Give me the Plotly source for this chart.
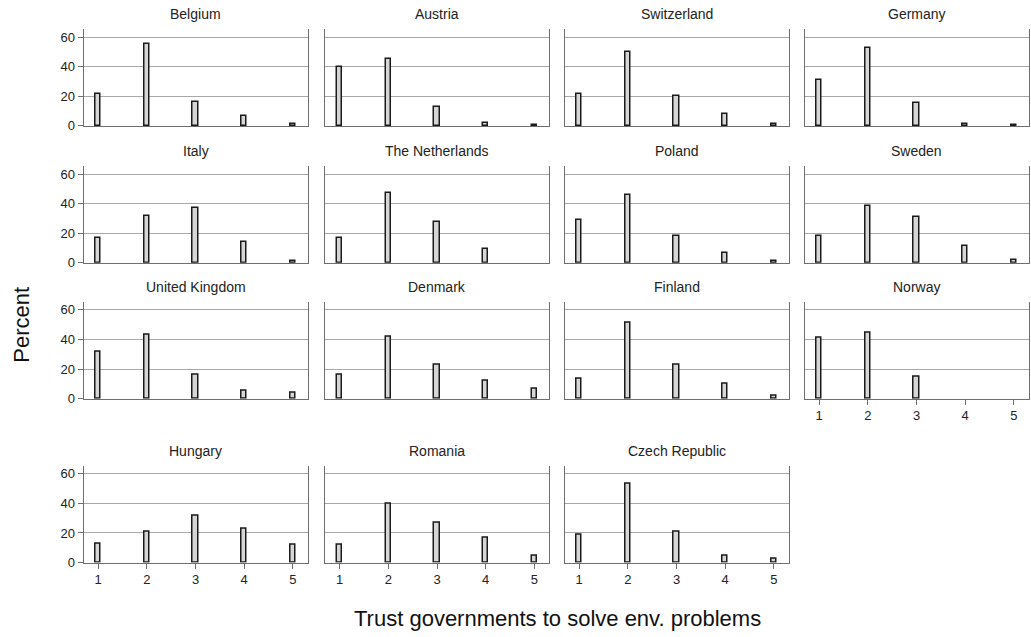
import plotly.graph_objects as go

categories = [1, 2, 3, 4, 5]
countries = ["Belgium", "Austria", "Switzerland", "Germany",
             "Italy", "The Netherlands", "Poland", "Sweden",
             "United Kingdom", "Denmark", "Finland", "Norway",
             "Hungary", "Romania", "Czech Republic"]

belgium = [21.4, 55.7, 16.1, 6.6, 1.2]
austria = [39.5, 45.2, 13.0, 2.3, 0.9]
switzerland = [21.8, 49.8, 20.2, 8.0, 1.5]
germany = [31.1, 52.7, 15.2, 1.0, 0.9]
italy = [16.8, 31.8, 36.8, 14.1, 1.4]
netherlands = [16.8, 47.5, 27.5, 9.3, None]
poland = [29.1, 46.1, 18.4, 6.8, 1.1]
sweden = [18.4, 38.2, 30.9, 11.4, 2.3]
united_kingdom = [31.8, 43.4, 15.9, 5.2, 4.3]
denmark = [16.4, 41.8, 23.2, 12.3, 7.0]
finland = [13.4, 51.6, 23.2, 10.2, 2.3]
norway = [40.9, 44.5, 15.0, None, None]
hungary = [12.5, 20.8, 31.5, 23.0, 12.1]
romania = [11.9, 39.5, 27.1, 16.7, 5.0]
czech_republic = [18.9, 53.6, 20.8, 5.0, 2.5]

series = [belgium, austria, switzerland, germany,
          italy, netherlands, poland, sweden,
          united_kingdom, denmark, finland, norway,
          hungary, romania, czech_republic]

y_ticks = [0, 20, 40, 60]

W, H = 1031, 637
SV = 1.012  # vertical compensation
col_px = [(83.5, 307.5), (325, 549), (564.5, 788.5), (804.5, 1028.5)]
row_px = [(29, 126), (166, 263), (302, 399), (466, 563)]

FONT = "Arial, Liberation Sans, Helvetica, sans-serif"
FRAME = "#6e6e6e"
GRID = "#a8a8a8"


def py(v):
    return 1 - min(v * SV, H) / H


fig = go.Figure()
annotations = []

for i, (name, vals) in enumerate(zip(countries, series)):
    r, c = divmod(i, 4)
    n = i + 1
    xa = "x" if n == 1 else f"x{n}"
    ya = "y" if n == 1 else f"y{n}"
    fig.add_trace(go.Bar(
        x=categories, y=vals, xaxis=xa, yaxis=ya, width=0.105,
        marker=dict(color="#d6d6d6", line=dict(color="#1a1a1a", width=1.5)),
        showlegend=False, hoverinfo="x+y"))
    x0, x1 = col_px[c]
    y0, y1 = row_px[r]
    show_x = (r == 3) or (name == "Norway")
    show_y = (c == 0)
    xkey = "xaxis" if n == 1 else f"xaxis{n}"
    ykey = "yaxis" if n == 1 else f"yaxis{n}"
    fig.layout[xkey] = dict(
        domain=[x0 / W, x1 / W], anchor=ya, range=[0.7, 5.3],
        tickvals=categories, ticktext=[str(v) for v in categories],
        showticklabels=show_x, ticks="outside" if show_x else "",
        ticklen=5, tickcolor=FRAME, showgrid=False, zeroline=False,
        showline=True, linecolor=FRAME, linewidth=1, mirror=False,
        tickfont=dict(family=FONT, size=13, color="#222"), fixedrange=True)
    fig.layout[ykey] = dict(
        domain=[py(y1), py(y0)], anchor=xa, range=[0, 65.5],
        tickvals=y_ticks, showticklabels=show_y,
        ticks="outside" if show_y else "", ticklen=5, tickcolor=FRAME,
        showgrid=True, gridcolor=GRID, gridwidth=1, zeroline=False,
        showline=True, linecolor=FRAME, linewidth=1, mirror=True,
        tickfont=dict(family=FONT, size=13, color="#222"), fixedrange=True)
    annotations.append(dict(
        text=name, x=(x0 + x1) / 2 / W, y=py(y0 - 15),
        xref="paper", yref="paper", showarrow=False,
        xanchor="center", yanchor="middle",
        font=dict(family=FONT, size=14, color="#222")))

annotations.append(dict(
    text="Percent", x=22 / W, y=py(325), xref="paper", yref="paper",
    showarrow=False, textangle=-90, xanchor="center", yanchor="middle",
    font=dict(family=FONT, size=22, color="#111")))
annotations.append(dict(
    text="Trust governments to solve env. problems", x=557 / W, y=py(619),
    xref="paper", yref="paper", showarrow=False,
    xanchor="center", yanchor="middle",
    font=dict(family=FONT, size=22, color="#111")))

fig.update_layout(
    width=W, height=H, margin=dict(l=0, r=0, t=0, b=0),
    paper_bgcolor="white", plot_bgcolor="white",
    annotations=annotations, bargap=0, showlegend=False)

post = (
    "var de=document.documentElement;de.style.margin='0';de.style.padding='0';"
    "de.style.overflow='hidden';"
    "document.body.style.margin='0';document.body.style.padding='0';"
    "document.body.style.overflow='hidden';"
)

fig.write_html("out.html", config={"displayModeBar": False}, post_script=post)
